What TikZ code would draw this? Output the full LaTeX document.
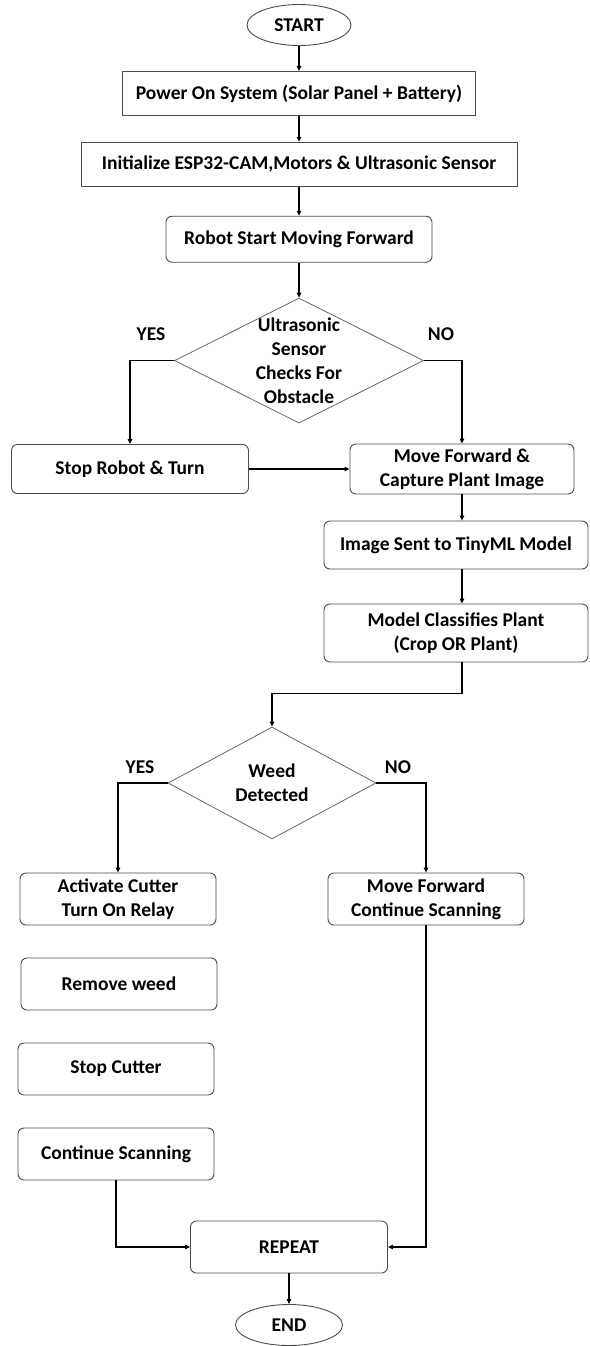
\documentclass[tikz,border=0pt]{standalone}
\usepackage{fontspec}
\setmainfont{Carlito}
\usetikzlibrary{arrows.meta, positioning, shapes.geometric}

\begin{document}
\begin{tikzpicture}[
    x=1pt, y=-1pt,
    >={Triangle[length=5pt, width=4.5pt]},
    font=\fontsize{19.5}{24}\selectfont\bfseries,
    block/.style = {draw=black!70, rectangle, minimum height=44pt, inner sep=2pt, align=center, line width=0.9pt},
    rblock/.style = {block, rounded corners=6pt, minimum height=52pt, minimum width=196pt},
    term/.style = {draw=black!70, ellipse, inner sep=0pt, line width=0.9pt, minimum width=104pt, minimum height=41pt},
    decision/.style = {draw=black!60, diamond, inner sep=0pt, line width=0.8pt},
    arrow/.style = {->, line width=1.5pt}
]
\useasboundingbox (0,0) rectangle (589,1346);

% =========================================================
% MAIN SPINE
% =========================================================
\node[term] (start) at (299,25) {START};
\node[block, minimum width=353pt, below=25pt of start] (power) {Power On System (Solar Panel + Battery)};
\node[block, minimum width=436pt, below=26pt of power] (init) {Initialize ESP32-CAM,Motors \& Ultrasonic Sensor};
\node[rblock, minimum width=266pt, minimum height=46pt, below=29pt of init] (robot) {Robot Start Moving Forward};

% Obstacle decision
\node[decision, minimum width=249pt, minimum height=125pt, below=35pt of robot,
      label={[align=center]center:Ultrasonic\\Sensor\\Checks For\\Obstacle}] (obst) {};
\node (yes1) at (151,334) {YES};
\node (no1) at (441,334) {NO};

% =========================================================
% OBSTACLE BRANCHES
% =========================================================
\node[rblock, minimum width=237pt, minimum height=49pt] (stop) at (130,469) {Stop Robot \& Turn};
\node[rblock, minimum width=224pt, minimum height=50pt] (capture) at (462,469) {Move Forward \&\\Capture Plant Image};
\node[rblock, minimum width=264pt, minimum height=48pt] (send) at (456,545) {Image Sent to TinyML Model};
\node[rblock, minimum width=264pt, minimum height=58pt] (classify) at (456,633) {Model Classifies Plant\\(Crop OR Plant)};

% Weed decision
\node[decision, minimum width=208pt, minimum height=112pt] (weed) at (272,783) {};
\node[align=center] at (weed) {Weed\\Detected};
\node (yes2) at (140,767) {YES};
\node (no2) at (398,767) {NO};

% =========================================================
% WEED BRANCHES
% =========================================================
\node[rblock] (cutter) at (118,899) {Activate Cutter\\Turn On Relay};
\node[rblock] (remove) at (119,984) {Remove weed};
\node[rblock] (stopcut) at (116,1069) {Stop Cutter};
\node[rblock] (scan) at (116,1154) {Continue Scanning};
\node[rblock] (forward) at (426,899) {Move Forward\\Continue Scanning};

\node[rblock, minimum width=197pt] (repeat) at (289,1247) {REPEAT};
\node[term, minimum width=107pt] (end) at (289,1325) {END};

% =========================================================
% WIRING
% =========================================================
\draw[arrow] (start) -- (power);
\draw[arrow] (power) -- (init);
\draw[arrow] (init) -- (robot);
\draw[arrow] (robot) -- (obst);
\draw[arrow] (obst.west) -| (stop.north);
\draw[arrow] (obst.east) -| (capture.north);
\draw[arrow] (stop) -- (capture);
\draw[arrow] (capture.south) -- (capture.south |- send.north);
\draw[arrow] (capture.south |- send.south) -- (capture.south |- classify.north);
\draw[arrow] (capture.south |- classify.south) -- ++(0,31) -| (weed.north);
\draw[arrow] (weed.west) -| (cutter.north);
\draw[arrow] (weed.east) -| (forward.north);
\draw[arrow] (scan.south) |- (repeat.west);
\draw[arrow] (forward.south) |- (repeat.east);
\draw[arrow] (repeat) -- (end);

\end{tikzpicture}
\end{document}
